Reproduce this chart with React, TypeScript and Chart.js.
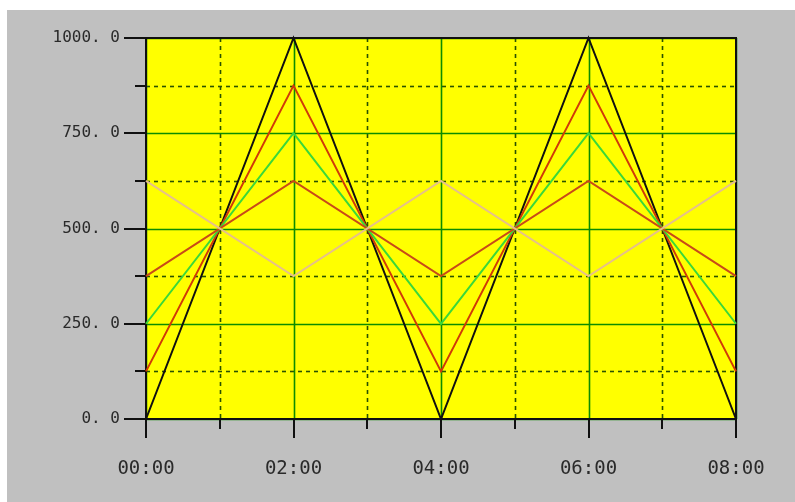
import React, { useEffect, useRef } from "react";
import { Chart, registerables } from "chart.js";

Chart.register(...registerables);

const hours = [0, 2, 4, 6, 8];
const seriesBlack = [0, 1000, 0, 1000, 0];
const seriesRed = [125, 875, 125, 875, 125];
const seriesGreen = [250, 750, 250, 750, 250];
const seriesBrown = [375, 625, 375, 625, 375];
const seriesTan = [625, 375, 625, 375, 625];

const yMajor = [0, 250, 500, 750, 1000];
const yMinor = [125, 375, 625, 875];
const xMajor = [0, 2, 4, 6, 8];
const xMinor = [1, 3, 5, 7];

const pts = (ys: number[]) => hours.map((h, i) => ({ x: h, y: ys[i] }));

const gridPlugin = {
  id: "gridPlugin",
  beforeDatasetsDraw(chart: any) {
    const { ctx, chartArea: a, scales } = chart;
    const xs = scales.x;
    const ys = scales.y;
    ctx.save();
    ctx.fillStyle = "#ffff00";
    ctx.fillRect(a.left, a.top, a.right - a.left, a.bottom - a.top);
    ctx.strokeStyle = "#2a5200";
    ctx.lineWidth = 1.6;
    ctx.setLineDash([4, 4]);
    for (const v of yMinor) {
      const y = Math.round(ys.getPixelForValue(v)) + 0.5;
      ctx.beginPath();
      ctx.moveTo(a.left, y);
      ctx.lineTo(a.right, y);
      ctx.stroke();
    }
    for (const v of xMinor) {
      const x = Math.round(xs.getPixelForValue(v)) + 0.5;
      ctx.beginPath();
      ctx.moveTo(x, a.top);
      ctx.lineTo(x, a.bottom);
      ctx.stroke();
    }
    ctx.setLineDash([]);
    ctx.strokeStyle = "#0c8c00";
    ctx.lineWidth = 1.6;
    for (const v of yMajor) {
      const y = Math.round(ys.getPixelForValue(v)) + 0.5;
      ctx.beginPath();
      ctx.moveTo(a.left, y);
      ctx.lineTo(a.right, y);
      ctx.stroke();
    }
    for (const v of xMajor) {
      const x = Math.round(xs.getPixelForValue(v)) + 0.5;
      ctx.beginPath();
      ctx.moveTo(x, a.top);
      ctx.lineTo(x, a.bottom);
      ctx.stroke();
    }
    ctx.strokeStyle = "#101010";
    ctx.lineWidth = 2;
    ctx.strokeRect(a.left, a.top, a.right - a.left, a.bottom - a.top);
    for (const v of yMajor) {
      const y = Math.round(ys.getPixelForValue(v));
      ctx.beginPath();
      ctx.moveTo(a.left - 22, y);
      ctx.lineTo(a.left, y);
      ctx.stroke();
    }
    for (const v of yMinor) {
      const y = Math.round(ys.getPixelForValue(v));
      ctx.beginPath();
      ctx.moveTo(a.left - 11, y);
      ctx.lineTo(a.left, y);
      ctx.stroke();
    }
    for (const v of xMajor) {
      const x = Math.round(xs.getPixelForValue(v));
      ctx.beginPath();
      ctx.moveTo(x, a.bottom);
      ctx.lineTo(x, a.bottom + 19);
      ctx.stroke();
    }
    for (const v of xMinor) {
      const x = Math.round(xs.getPixelForValue(v));
      ctx.beginPath();
      ctx.moveTo(x, a.bottom);
      ctx.lineTo(x, a.bottom + 10);
      ctx.stroke();
    }
    ctx.restore();
  },
};

export default function App() {
  const ref = useRef<HTMLCanvasElement>(null);
  useEffect(() => {
    if (!ref.current) return;
    const mk = (data: number[], color: string) => ({
      data: pts(data),
      borderColor: color,
      backgroundColor: color,
      borderWidth: 2,
      pointRadius: 0,
      tension: 0,
      fill: false,
      clip: false as any,
    });
    const chart = new Chart(ref.current, {
      type: "line",
      data: {
        datasets: [
          mk(seriesTan, "#e6c08a"),
          mk(seriesBrown, "#c84a18"),
          mk(seriesGreen, "#3ad83a"),
          mk(seriesRed, "#d03a08"),
          mk(seriesBlack, "#101010"),
        ],
      },
      options: {
        animation: false,
        responsive: false,
        layout: { padding: { left: 0, top: 28, right: 59, bottom: 0 } },
        plugins: { legend: { display: false }, tooltip: { enabled: false } },
        scales: {
          x: {
            type: "linear",
            min: 0,
            max: 8,
            grid: { display: false, drawTicks: false },
            border: { display: false },
            ticks: {
              stepSize: 2,
              padding: 39,
              color: "#2a2a2a",
              font: { family: "'DejaVu Sans Mono', monospace", size: 19 },
              callback: (v: any) => String(v).padStart(2, "0") + ":00",
              maxRotation: 0,
            },
            afterFit: (s: any) => {
              s.height = 83;
              s.paddingLeft = 0;
              s.paddingRight = 0;
              s.paddingTop = 0;
              s.paddingBottom = 0;
            },
          },
          y: {
            min: 0,
            max: 1000,
            grid: { display: false, drawTicks: false },
            border: { display: false },
            ticks: {
              stepSize: 250,
              padding: 26,
              color: "#2a2a2a",
              font: { family: "'DejaVu Sans Mono', monospace", size: 16 },
              callback: (v: any) => Number(v).toFixed(1).replace(".", ". "),
            },
            afterFit: (s: any) => {
              s.width = 139;
              s.paddingLeft = 0;
              s.paddingRight = 0;
              s.paddingTop = 0;
              s.paddingBottom = 0;
            },
          },
        },
      },
      plugins: [gridPlugin],
    });
    return () => chart.destroy();
  }, []);
  return (
    <div
      style={{
        position: "absolute",
        left: 7,
        top: 10,
        width: 788,
        height: 492,
        background: "#c0c0c0",
      }}
    >
      <canvas ref={ref} width={788} height={492} />
    </div>
  );
}
